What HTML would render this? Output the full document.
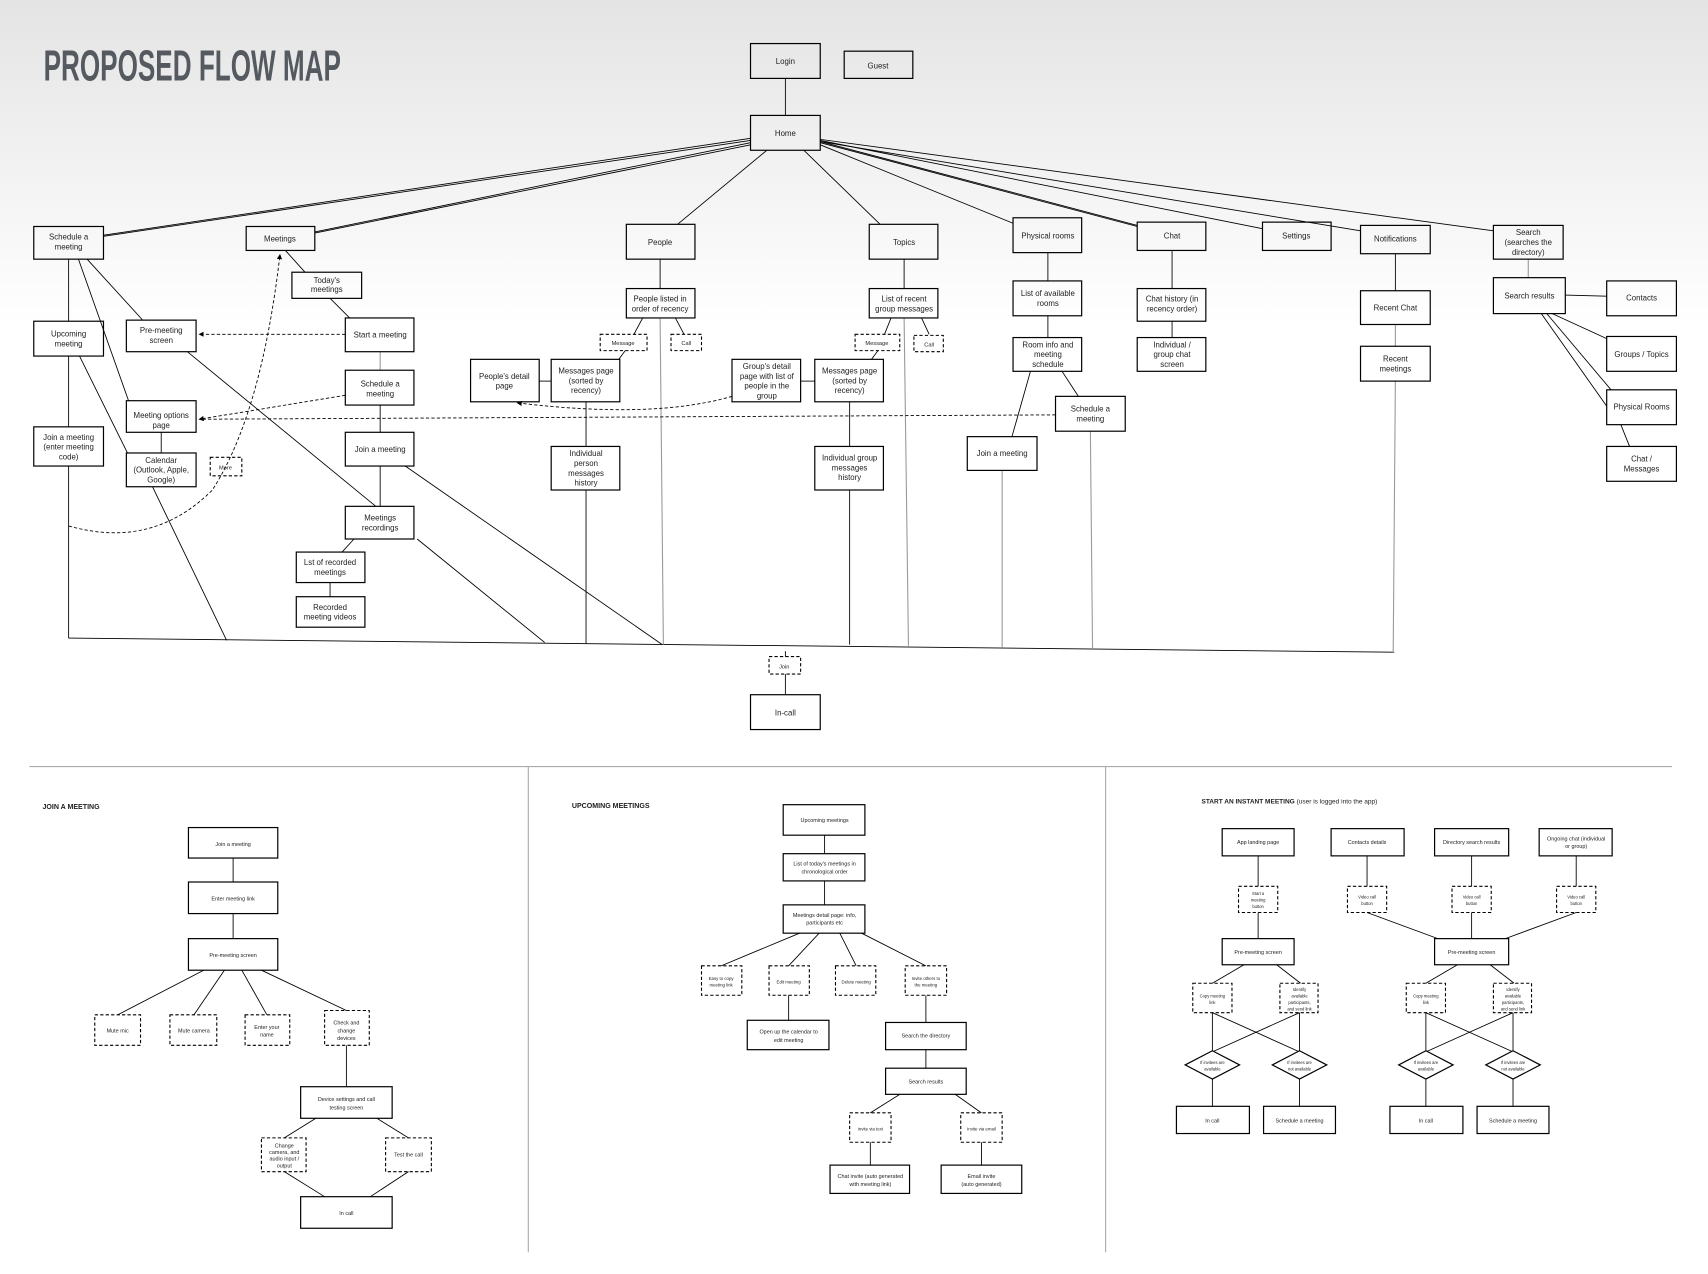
<!DOCTYPE html>
<html><head><meta charset="utf-8"><style>
html,body{margin:0;padding:0;background:#fff}
svg{display:block}
.b{fill:none;stroke:#000;stroke-width:1.1}
.w{fill:#fff;stroke:#000;stroke-width:1.1}
.d{fill:none;stroke:#000;stroke-width:1;stroke-dasharray:3 2}
.l{stroke:#000;stroke-width:0.8;fill:none}
.g{stroke:#999;stroke-width:1;fill:none}
.dl{stroke:#000;stroke-width:0.8;fill:none;stroke-dasharray:3 2}
text{font-family:"Liberation Sans",sans-serif;font-size:7.2px;text-anchor:middle;fill:#222}
.s text,text.s{font-size:5px}
.t{font-size:5.2px}
.h{font-size:6.5px;font-weight:bold;text-anchor:start}
</style></head><body>
<svg width="1708" height="1274" viewBox="0 0 1568 1170" preserveAspectRatio="none" xmlns="http://www.w3.org/2000/svg">
<defs>
<linearGradient id="bg" x1="0" y1="0" x2="0" y2="1"><stop offset="0" stop-color="#e4e4e4"/><stop offset="1" stop-color="#ffffff"/></linearGradient>
<marker id="ar" markerWidth="6" markerHeight="6" refX="5" refY="3" orient="auto"><path d="M0,0 L6,3 L0,6 z" fill="#000"/></marker>
</defs>
<rect x="0" y="0" width="1568" height="300" fill="url(#bg)"/>
<text x="40" y="74" style="font-size:40px;text-anchor:start;fill:#555a60;font-family:'Liberation Sans Narrow','Liberation Sans',sans-serif;font-weight:bold" textLength="273" lengthAdjust="spacingAndGlyphs">PROPOSED FLOW MAP</text>

<!-- connectors top -->
<g class="l">
<line x1="721" y1="72" x2="721" y2="106"/>
<line x1="689" y1="127" x2="95" y2="216"/><line x1="689" y1="129" x2="95" y2="217"/>
<line x1="689" y1="131" x2="289" y2="213"/><line x1="689" y1="133" x2="289" y2="214"/>
<line x1="704" y1="138" x2="622" y2="206"/>
<line x1="738" y1="138" x2="808" y2="206"/>
<line x1="753" y1="133" x2="930" y2="205"/>
<line x1="753" y1="131" x2="1044" y2="208"/><line x1="753" y1="130" x2="1044" y2="207"/>
<line x1="753" y1="129" x2="1159" y2="210"/>
<line x1="753" y1="130" x2="1249" y2="212"/>
<line x1="753" y1="128" x2="1371" y2="212"/>
<line x1="63" y1="238" x2="63" y2="295"/>
<line x1="80" y1="238" x2="131" y2="294"/>
<line x1="72" y1="238" x2="118" y2="368"/>
<line x1="63" y1="327" x2="63" y2="392"/>
<line x1="73" y1="327" x2="117" y2="416"/>
<line x1="148" y1="397" x2="148" y2="416"/>
<line x1="63" y1="428" x2="63" y2="586"/>
<line x1="140" y1="447" x2="208" y2="588"/>
<line x1="172" y1="323" x2="345" y2="465"/>
<line x1="262" y1="230" x2="280" y2="250"/>
<line x1="303" y1="274" x2="321" y2="292"/>
<line x1="349" y1="372" x2="349" y2="397"/>
<line x1="349" y1="428" x2="349" y2="465"/>
<line x1="325" y1="495" x2="314" y2="507"/>
<line x1="303" y1="535" x2="303" y2="548"/>
<line x1="372" y1="428" x2="608" y2="592"/>
<line x1="383" y1="495" x2="500" y2="590"/>
<line x1="63" y1="586" x2="1280" y2="599"/>
<line x1="606" y1="238" x2="606" y2="265"/>
<line x1="590" y1="292" x2="582" y2="307"/><line x1="620" y1="292" x2="628" y2="307"/>
<line x1="574" y1="322" x2="568" y2="330"/>
<line x1="495" y1="350" x2="506" y2="350"/>
<line x1="538" y1="369" x2="538" y2="410"/>
<line x1="538" y1="450" x2="538" y2="591"/>
<line x1="830" y1="238" x2="830" y2="265"/>
<line x1="818" y1="292" x2="812" y2="307"/><line x1="846" y1="292" x2="853" y2="307"/>
<line x1="806" y1="322" x2="800" y2="330"/>
<line x1="735" y1="350" x2="748" y2="350"/>
<line x1="780" y1="369" x2="780" y2="410"/>
<line x1="780" y1="450" x2="780" y2="592"/>
<line x1="962" y1="232" x2="962" y2="258"/>
<line x1="962" y1="290" x2="962" y2="310"/>
<line x1="946" y1="341" x2="929" y2="401"/>
<line x1="975" y1="341" x2="990" y2="364"/>
<line x1="1076" y1="230" x2="1076" y2="265"/>
<line x1="1076" y1="295" x2="1076" y2="310"/>
<line x1="1281" y1="233" x2="1281" y2="267"/>
<line x1="1437" y1="271" x2="1475" y2="272"/>
<line x1="1425" y1="288" x2="1475" y2="311"/>
<line x1="1420" y1="288" x2="1479" y2="358"/>
<line x1="1415" y1="288" x2="1475" y2="373"/>
<line x1="1488" y1="390" x2="1496" y2="410"/>
<line x1="721" y1="598" x2="721" y2="603"/>
<line x1="721" y1="619" x2="721" y2="638"/>
</g>
<g class="g">
<line x1="349" y1="323" x2="349" y2="340"/>
<line x1="606" y1="292" x2="609" y2="592"/>
<line x1="830" y1="292" x2="834" y2="593"/>
<line x1="920" y1="432" x2="920" y2="595"/>
<line x1="1001" y1="396" x2="1003" y2="596"/>
<line x1="1281" y1="298" x2="1281" y2="318"/>
<line x1="1281" y1="350" x2="1279" y2="599"/>
<line x1="1403" y1="238" x2="1403" y2="255"/>
</g>
<g class="dl">
<line x1="317" y1="307" x2="183" y2="307" marker-end="url(#ar)"/>
<line x1="317" y1="363" x2="183" y2="385" marker-end="url(#ar)"/>
<line x1="969" y1="381" x2="185" y2="385"/>
<path d="M672,364 Q600,385 475,370" marker-end="url(#ar)"/>
<path d="M63,483 Q140,505 195,450 Q240,380 257,234" marker-end="url(#ar)"/>
</g>

<!-- top boxes -->
<g class="b">
<rect x="689" y="40" width="64" height="32"/><rect x="775" y="47" width="63" height="25"/>
<rect x="689" y="106" width="64" height="32"/>
<rect x="31" y="208" width="64" height="30"/><rect x="226" y="208" width="63" height="22"/>
<rect x="575" y="206" width="63" height="32"/><rect x="798" y="206" width="63" height="32"/>
<rect x="930" y="200" width="63" height="32"/><rect x="1044" y="204" width="63" height="26"/>
<rect x="1159" y="204" width="63" height="26"/><rect x="1249" y="207" width="64" height="26"/>
<rect x="1371" y="207" width="64" height="31"/>
<rect x="268" y="250" width="64" height="24"/>
<rect x="31" y="295" width="64" height="32"/><rect x="116" y="294" width="64" height="29"/>
<rect x="317" y="292" width="63" height="31"/>
<rect x="575" y="265" width="63" height="27"/><rect x="798" y="265" width="63" height="27"/>
<rect x="930" y="258" width="63" height="32"/><rect x="1044" y="265" width="63" height="30"/>
<rect x="1249" y="267" width="64" height="31"/><rect x="1371" y="255" width="66" height="33"/>
<rect x="1475" y="258" width="64" height="32"/>
<rect x="930" y="310" width="63" height="31"/><rect x="1044" y="310" width="63" height="31"/>
<rect x="1475" y="309" width="64" height="32"/><rect x="1249" y="318" width="64" height="32"/>
<rect x="432" y="330" width="63" height="39"/><rect x="506" y="330" width="63" height="39"/>
<rect x="672" y="330" width="63" height="39"/><rect x="748" y="330" width="63" height="39"/>
<rect x="317" y="340" width="63" height="32"/><rect x="116" y="368" width="64" height="29"/>
<rect x="969" y="364" width="64" height="32"/><rect x="1475" y="358" width="64" height="32"/>
<rect x="31" y="392" width="64" height="36"/><rect x="317" y="397" width="63" height="31"/>
<rect x="888" y="401" width="64" height="31"/><rect x="116" y="416" width="64" height="31"/>
<rect x="506" y="410" width="63" height="40"/><rect x="748" y="410" width="63" height="40"/>
<rect x="1475" y="410" width="64" height="32"/>
<rect x="317" y="465" width="63" height="30"/><rect x="272" y="507" width="63" height="28"/>
<rect x="272" y="548" width="63" height="28"/><rect x="689" y="638" width="64" height="32"/>
</g>
<g class="d">
<rect x="551" y="307" width="43" height="15"/><rect x="616" y="307" width="28" height="15"/>
<rect x="785" y="307" width="41" height="15"/><rect x="839" y="308" width="27" height="15"/>
<rect x="193" y="420" width="29" height="17"/><rect x="706" y="603" width="29" height="16"/>
</g>
<g>
<text x="721" y="59">Login</text><text x="806" y="63">Guest</text><text x="721" y="125">Home</text>
<text x="63" y="220">Schedule a</text><text x="63" y="229">meeting</text>
<text x="257" y="222">Meetings</text><text x="606" y="225">People</text><text x="830" y="225">Topics</text>
<text x="962" y="219">Physical rooms</text><text x="1076" y="219">Chat</text><text x="1190" y="219">Settings</text>
<text x="1281" y="222">Notifications</text>
<text x="1403" y="216">Search</text><text x="1403" y="225">(searches the</text><text x="1403" y="234">directory)</text>
<text x="300" y="260">Today's</text><text x="300" y="268">meetings</text>
<text x="63" y="309">Upcoming</text><text x="63" y="318">meeting</text>
<text x="148" y="306">Pre-meeting</text><text x="148" y="315">screen</text>
<text x="349" y="310">Start a meeting</text>
<text x="606" y="277">People listed in</text><text x="606" y="286">order of recency</text>
<text x="830" y="277">List of recent</text><text x="830" y="286">group messages</text>
<text x="962" y="272">List of available</text><text x="962" y="281">rooms</text>
<text x="1076" y="277">Chat history (in</text><text x="1076" y="286">recency order)</text>
<text x="1281" y="285">Recent Chat</text>
<text x="1404" y="274">Search results</text><text x="1507" y="276">Contacts</text>
<text x="962" y="319">Room info and</text><text x="962" y="328">meeting</text><text x="962" y="337">schedule</text>
<text x="1076" y="319">Individual /</text><text x="1076" y="328">group chat</text><text x="1076" y="337">screen</text>
<text x="1507" y="328">Groups / Topics</text>
<text x="1281" y="332">Recent</text><text x="1281" y="341">meetings</text>
<text x="463" y="348">People's detail</text><text x="463" y="357">page</text>
<text x="538" y="343">Messages page</text><text x="538" y="352">(sorted by</text><text x="538" y="361">recency)</text>
<text x="704" y="339">Group's detail</text><text x="704" y="348">page with list of</text><text x="704" y="357">people in the</text><text x="704" y="366">group</text>
<text x="780" y="343">Messages page</text><text x="780" y="352">(sorted by</text><text x="780" y="361">recency)</text>
<text x="349" y="355">Schedule a</text><text x="349" y="364">meeting</text>
<text x="148" y="384">Meeting options</text><text x="148" y="393">page</text>
<text x="1001" y="378">Schedule a</text><text x="1001" y="387">meeting</text>
<text x="1507" y="376">Physical Rooms</text>
<text x="63" y="404">Join a meeting</text><text x="63" y="413">(enter meeting</text><text x="63" y="422">code)</text>
<text x="349" y="415">Join a meeting</text><text x="920" y="419">Join a meeting</text>
<text x="148" y="425">Calendar</text><text x="148" y="434">(Outlook, Apple,</text><text x="148" y="443">Google)</text>
<text x="538" y="419">Individual</text><text x="538" y="428">person</text><text x="538" y="437">messages</text><text x="538" y="446">history</text>
<text x="780" y="423">Individual group</text><text x="780" y="432">messages</text><text x="780" y="441">history</text>
<text x="1507" y="424">Chat /</text><text x="1507" y="433">Messages</text>
<text x="349" y="478">Meetings</text><text x="349" y="487">recordings</text>
<text x="303" y="519">Lst of recorded</text><text x="303" y="528">meetings</text>
<text x="303" y="560">Recorded</text><text x="303" y="569">meeting videos</text>
<text x="721" y="657">In-call</text>
<text class="t" x="572" y="317">Message</text><text class="t" x="630" y="317">Call</text>
<text class="t" x="805" y="317">Message</text><text class="t" x="853" y="318">Call</text>
<text class="t" x="207" y="431">More</text><text class="t" x="720" y="614">Join</text>
</g>

<!-- dividers -->
<g stroke="#aaa" stroke-width="1">
<line x1="27" y1="704" x2="1535" y2="704"/>
<line x1="485" y1="704" x2="485" y2="1150"/>
<line x1="1015" y1="704" x2="1015" y2="1150"/>
</g>

<!-- JOIN A MEETING -->
<text class="h" x="39" y="743">JOIN A MEETING</text>
<g class="l">
<line x1="214" y1="788" x2="214" y2="810"/><line x1="214" y1="839" x2="214" y2="862"/>
<line x1="187" y1="891" x2="108" y2="932"/><line x1="206" y1="891" x2="178" y2="932"/>
<line x1="222" y1="891" x2="245" y2="932"/><line x1="240" y1="891" x2="318" y2="928"/>
<line x1="318" y1="960" x2="318" y2="998"/>
<line x1="290" y1="1027" x2="261" y2="1045"/><line x1="346" y1="1027" x2="375" y2="1045"/>
<line x1="261" y1="1076" x2="298" y2="1099"/><line x1="375" y1="1076" x2="340" y2="1099"/>
</g>
<g class="b">
<rect x="173" y="760" width="82" height="28"/><rect x="173" y="810" width="82" height="29"/>
<rect x="173" y="862" width="82" height="29"/><rect x="276" y="998" width="84" height="29"/>
<rect x="276" y="1099" width="84" height="29"/>
</g>
<g class="d">
<rect x="87" y="932" width="42" height="28"/><rect x="156" y="932" width="43" height="28"/>
<rect x="225" y="932" width="41" height="28"/><rect x="298" y="928" width="41" height="32"/>
<rect x="240" y="1045" width="41" height="31"/><rect x="354" y="1045" width="42" height="31"/>
</g>
<g class="s">
<text x="214" y="777">Join a meeting</text><text x="214" y="827">Enter meeting link</text>
<text x="214" y="879">Pre-meeting screen</text>
<text x="108" y="948">Mute mic</text><text x="178" y="948">Mute camera</text>
<text x="245" y="945">Enter your</text><text x="245" y="952">name</text>
<text x="318" y="941">Check and</text><text x="318" y="948">change</text><text x="318" y="955">devices</text>
<text x="318" y="1011">Device settings and call</text><text x="318" y="1019">testing screen</text>
<text x="261" y="1054">Change</text><text x="261" y="1060">camera, and</text><text x="261" y="1066">audio input /</text><text x="261" y="1072">output</text>
<text x="375" y="1062">Test the call</text>
<text x="318" y="1116">In call</text>
</g>

<!-- UPCOMING MEETINGS -->
<text class="h" x="525" y="742">UPCOMING MEETINGS</text>
<g class="l">
<line x1="757" y1="767" x2="757" y2="784"/><line x1="757" y1="809" x2="757" y2="831"/>
<line x1="734" y1="857" x2="662" y2="887"/><line x1="752" y1="857" x2="724" y2="887"/>
<line x1="771" y1="857" x2="786" y2="887"/><line x1="791" y1="857" x2="850" y2="887"/>
<line x1="724" y1="914" x2="724" y2="937"/><line x1="850" y1="914" x2="850" y2="939"/>
<line x1="850" y1="964" x2="850" y2="981"/>
<line x1="826" y1="1005" x2="799" y2="1022"/><line x1="877" y1="1005" x2="901" y2="1022"/>
<line x1="799" y1="1049" x2="799" y2="1070"/><line x1="901" y1="1049" x2="901" y2="1070"/>
</g>
<g class="b">
<rect x="719" y="739" width="75" height="28"/><rect x="719" y="784" width="75" height="25"/>
<rect x="719" y="831" width="75" height="26"/><rect x="686" y="937" width="75" height="27"/>
<rect x="813" y="939" width="74" height="25"/><rect x="813" y="981" width="74" height="24"/>
<rect x="762" y="1070" width="73" height="26"/><rect x="864" y="1070" width="74" height="26"/>
</g>
<g class="d">
<rect x="644" y="887" width="37" height="27"/><rect x="706" y="887" width="37" height="27"/>
<rect x="767" y="887" width="37" height="27"/><rect x="831" y="887" width="38" height="27"/>
<rect x="780" y="1022" width="38" height="27"/><rect x="882" y="1022" width="38" height="27"/>
</g>
<g class="s">
<text x="757" y="755">Upcoming meetings</text>
<text x="757" y="795">List of today's meetings in</text><text x="757" y="802">chronological order</text>
<text x="757" y="842">Meetings detail page: info,</text><text x="757" y="849">participants etc</text>
<text x="662" y="900" style="font-size:4px">Easy to copy</text><text x="662" y="906" style="font-size:4px">meeting link</text>
<text x="724" y="903" style="font-size:4px">Edit meeting</text><text x="786" y="903" style="font-size:4px">Delete meeting</text>
<text x="850" y="900" style="font-size:4px">Invite others to</text><text x="850" y="906" style="font-size:4px">the meeting</text>
<text x="724" y="949">Open up the calendar to</text><text x="724" y="957">edit meeting</text>
<text x="850" y="953">Search the directory</text><text x="850" y="995">Search results</text>
<text x="799" y="1038" style="font-size:4px">Invite via text</text><text x="901" y="1038" style="font-size:4px">Invite via email</text>
<text x="799" y="1082">Chat invite (auto generated</text><text x="799" y="1089">with meeting link)</text>
<text x="901" y="1082">Email invite</text><text x="901" y="1089">(auto generated)</text>
</g>

<!-- START AN INSTANT MEETING -->
<text class="h" x="1103" y="738" style="font-size:6px">START AN INSTANT MEETING <tspan font-weight="normal">(user is logged into the app)</tspan></text>
<g class="l">
<line x1="1155" y1="786" x2="1155" y2="814"/><line x1="1155" y1="838" x2="1155" y2="862"/>
<line x1="1255" y1="786" x2="1255" y2="814"/><line x1="1351" y1="786" x2="1351" y2="814"/><line x1="1447" y1="786" x2="1447" y2="814"/>
<line x1="1255" y1="838" x2="1320" y2="862"/><line x1="1351" y1="838" x2="1351" y2="862"/><line x1="1447" y1="838" x2="1382" y2="862"/>
<line x1="1142" y1="886" x2="1113" y2="903"/><line x1="1172" y1="886" x2="1194" y2="903"/>
<line x1="1113" y1="930" x2="1113" y2="966"/><line x1="1193" y1="930" x2="1193" y2="966"/>
<line x1="1113" y1="930" x2="1193" y2="966"/><line x1="1193" y1="930" x2="1113" y2="966"/>
<line x1="1113" y1="991" x2="1113" y2="1016"/><line x1="1193" y1="991" x2="1193" y2="1016"/>
<line x1="1338" y1="886" x2="1309" y2="903"/><line x1="1368" y1="886" x2="1390" y2="903"/>
<line x1="1309" y1="930" x2="1309" y2="966"/><line x1="1389" y1="930" x2="1389" y2="966"/>
<line x1="1309" y1="930" x2="1389" y2="966"/><line x1="1389" y1="930" x2="1309" y2="966"/>
<line x1="1309" y1="991" x2="1309" y2="1016"/><line x1="1389" y1="991" x2="1389" y2="1016"/>
</g>
<g class="b">
<rect x="1122" y="761" width="66" height="25"/><rect x="1222" y="761" width="67" height="25"/>
<rect x="1317" y="761" width="68" height="25"/><rect x="1413" y="761" width="67" height="25"/>
<rect x="1122" y="862" width="66" height="24"/><rect x="1317" y="862" width="68" height="24"/>
<rect x="1080" y="1016" width="67" height="25"/><rect x="1160" y="1016" width="66" height="25"/>
<rect x="1276" y="1016" width="67" height="25"/><rect x="1356" y="1016" width="66" height="25"/>
</g>
<g class="w">
<path d="M1088,978 L1113,965 L1138,978 L1113,991 Z"/><path d="M1168,978 L1193,965 L1218,978 L1193,991 Z"/>
<path d="M1284,978 L1309,965 L1334,978 L1309,991 Z"/><path d="M1364,978 L1389,965 L1414,978 L1389,991 Z"/>
</g>
<g class="d">
<rect x="1137" y="814" width="36" height="24"/><rect x="1237" y="814" width="36" height="24"/>
<rect x="1333" y="814" width="36" height="24"/><rect x="1429" y="814" width="36" height="24"/>
<rect x="1095" y="903" width="36" height="27"/><rect x="1175" y="903" width="35" height="27"/>
<rect x="1291" y="903" width="36" height="27"/><rect x="1371" y="903" width="35" height="27"/>
</g>
<g class="s">
<text x="1155" y="775">App landing page</text><text x="1255" y="775">Contacts details</text>
<text x="1351" y="775">Directory search results</text>
<text x="1447" y="772">Ongoing chat (individual</text><text x="1447" y="779">or group)</text>
<text x="1155" y="876">Pre-meeting screen</text><text x="1351" y="876">Pre-meeting screen</text>
<text x="1113" y="1031">In call</text><text x="1193" y="1031">Schedule a meeting</text>
<text x="1309" y="1031">In call</text><text x="1389" y="1031">Schedule a meeting</text>
</g>
<g style="font-size:3.8px">
<text x="1155" y="822" style="font-size:3.8px">Start a</text><text x="1155" y="828" style="font-size:3.8px">meeting</text><text x="1155" y="834" style="font-size:3.8px">button</text>
<text x="1255" y="825" style="font-size:3.8px">Video call</text><text x="1255" y="831" style="font-size:3.8px">button</text>
<text x="1351" y="825" style="font-size:3.8px">Video call</text><text x="1351" y="831" style="font-size:3.8px">button</text>
<text x="1447" y="825" style="font-size:3.8px">Video call</text><text x="1447" y="831" style="font-size:3.8px">button</text>
<text x="1113" y="916" style="font-size:3.8px">Copy meeting</text><text x="1113" y="922" style="font-size:3.8px">link</text>
<text x="1309" y="916" style="font-size:3.8px">Copy meeting</text><text x="1309" y="922" style="font-size:3.8px">link</text>
<text x="1193" y="910" style="font-size:3.8px">Identify</text><text x="1193" y="916" style="font-size:3.8px">available</text><text x="1193" y="922" style="font-size:3.8px">participants,</text><text x="1193" y="928" style="font-size:3.8px">and send link</text>
<text x="1389" y="910" style="font-size:3.8px">Identify</text><text x="1389" y="916" style="font-size:3.8px">available</text><text x="1389" y="922" style="font-size:3.8px">participants,</text><text x="1389" y="928" style="font-size:3.8px">and send link</text>
<text x="1113" y="977" style="font-size:3.8px">If invitees are</text><text x="1113" y="983" style="font-size:3.8px">available</text>
<text x="1193" y="977" style="font-size:3.8px">If invitees are</text><text x="1193" y="983" style="font-size:3.8px">not available</text>
<text x="1309" y="977" style="font-size:3.8px">If invitees are</text><text x="1309" y="983" style="font-size:3.8px">available</text>
<text x="1389" y="977" style="font-size:3.8px">If invitees are</text><text x="1389" y="983" style="font-size:3.8px">not available</text>
</g>
</svg>
</body></html>
